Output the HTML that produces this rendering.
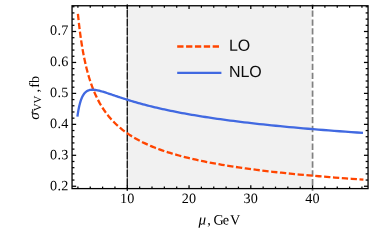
<!DOCTYPE html>
<html><head><meta charset="utf-8"><style>
html,body{margin:0;padding:0;background:#fff;}
svg{display:block;will-change:transform;}
text{font-family:"Liberation Serif",serif;font-size:14.2px;fill:#000;text-rendering:geometricPrecision;}
.tl text{letter-spacing:0.25px;}
.sans{font-family:"Liberation Sans",sans-serif;fill:#0d0d0d;}
</style></head><body>
<svg width="374" height="245" viewBox="0 0 374 245">
<rect width="374" height="245" fill="#fff"/>
<rect x="127.30" y="5.75" width="184.05" height="182.85" fill="#f1f1f1"/>
<line x1="127.30" y1="190.8" x2="127.30" y2="4.5" stroke="#2a2a2a" stroke-width="0.75"/>
<line x1="127.30" y1="190.8" x2="127.30" y2="4.5" stroke="#151515" stroke-width="1.25" stroke-dasharray="7.27 1.6" stroke-dashoffset="3.93"/>
<line x1="312.55" y1="190.8" x2="312.55" y2="4.5" stroke="#808080" stroke-width="1.75" stroke-dasharray="6.3 2.57" stroke-dashoffset="3.45"/>
<path d="M77.92,13.85 L78.17,16.30 L78.42,18.71 L78.67,21.08 L78.93,23.42 L79.20,25.72 L79.47,27.99 L79.75,30.22 L80.03,32.42 L80.32,34.59 L80.61,36.73 L80.91,38.83 L81.22,40.90 L81.53,42.95 L81.85,44.96 L82.18,46.94 L82.51,48.90 L82.85,50.83 L83.19,52.73 L83.55,54.60 L83.91,56.45 L84.27,58.27 L84.65,60.06 L85.03,61.83 L85.42,63.58 L85.82,65.30 L86.23,67.00 L86.64,68.67 L87.06,70.32 L87.50,71.95 L87.94,73.56 L88.39,75.14 L88.84,76.71 L89.31,78.25 L89.79,79.78 L90.28,81.28 L90.77,82.76 L91.28,84.23 L91.80,85.67 L92.33,87.10 L92.87,88.50 L93.42,89.89 L93.98,91.27 L94.55,92.62 L95.13,93.96 L95.73,95.28 L96.34,96.58 L96.96,97.87 L97.59,99.14 L98.24,100.39 L98.90,101.63 L99.57,102.86 L100.26,104.06 L100.96,105.26 L101.67,106.44 L102.40,107.60 L103.15,108.75 L103.91,109.89 L104.68,111.02 L105.47,112.13 L106.28,113.22 L107.10,114.31 L107.94,115.38 L108.80,116.44 L109.67,117.48 L110.57,118.51 L111.48,119.54 L112.41,120.55 L113.35,121.54 L114.32,122.53 L115.31,123.51 L116.31,124.47 L117.34,125.42 L118.39,126.36 L119.46,127.30 L120.55,128.22 L121.67,129.13 L122.80,130.03 L123.96,130.92 L125.15,131.80 L126.35,132.67 L127.59,133.53 L128.84,134.38 L130.13,135.22 L131.43,136.06 L132.77,136.88 L134.13,137.70 L135.52,138.50 L136.94,139.30 L138.39,140.09 L139.87,140.87 L141.38,141.64 L142.91,142.41 L144.48,143.16 L146.08,143.91 L147.72,144.65 L149.39,145.38 L151.09,146.11 L152.82,146.83 L154.59,147.54 L156.40,148.24 L158.25,148.93 L160.13,149.62 L162.05,150.30 L164.01,150.98 L166.01,151.64 L168.05,152.31 L170.13,152.96 L172.25,153.61 L174.42,154.25 L176.63,154.88 L178.89,155.51 L181.19,156.13 L183.54,156.75 L185.93,157.36 L188.38,157.96 L190.88,158.56 L193.42,159.15 L196.02,159.74 L198.67,160.32 L201.38,160.89 L204.14,161.46 L206.95,162.02 L209.83,162.58 L212.76,163.14 L215.75,163.68 L218.81,164.23 L221.92,164.76 L225.10,165.30 L228.35,165.82 L231.65,166.35 L235.03,166.86 L238.48,167.38 L241.99,167.88 L245.58,168.39 L249.24,168.89 L252.98,169.38 L256.79,169.87 L260.68,170.35 L264.65,170.83 L268.70,171.31 L272.83,171.78 L277.04,172.25 L281.35,172.71 L285.74,173.17 L290.22,173.63 L294.79,174.08 L299.45,174.52 L304.21,174.97 L309.06,175.41 L314.02,175.84 L319.07,176.27 L324.23,176.70 L329.49,177.12 L334.86,177.54 L340.34,177.96 L345.93,178.37 L351.64,178.78 L357.46,179.19 L363.40,179.59" fill="none" stroke="#ff4500" stroke-width="2.3" stroke-dasharray="6.3 2.57" stroke-dashoffset="-0.1"/>
<path d="M77.40,116.65 L77.64,114.98 L77.88,113.39 L78.13,111.87 L78.38,110.42 L78.64,109.05 L78.90,107.73 L79.17,106.48 L79.45,105.29 L79.73,104.16 L80.01,103.09 L80.31,102.07 L80.60,101.11 L80.91,100.19 L81.22,99.33 L81.54,98.52 L81.86,97.75 L82.19,97.02 L82.53,96.34 L82.87,95.70 L83.22,95.10 L83.58,94.54 L83.94,94.02 L84.32,93.53 L84.70,93.08 L85.09,92.66 L85.48,92.28 L85.89,91.92 L86.30,91.60 L86.72,91.30 L87.16,91.04 L87.59,90.80 L88.04,90.59 L88.50,90.40 L88.97,90.24 L89.45,90.11 L89.93,89.99 L90.43,89.90 L90.94,89.83 L91.45,89.78 L91.98,89.75 L92.52,89.74 L93.07,89.75 L93.63,89.77 L94.21,89.82 L94.79,89.88 L95.39,89.96 L96.00,90.05 L96.62,90.16 L97.25,90.28 L97.90,90.41 L98.56,90.56 L99.24,90.73 L99.93,90.90 L100.63,91.09 L101.35,91.29 L102.08,91.50 L102.83,91.72 L103.59,91.95 L104.37,92.19 L105.16,92.44 L105.98,92.70 L106.80,92.97 L107.65,93.25 L108.51,93.54 L109.39,93.83 L110.29,94.13 L111.21,94.44 L112.14,94.76 L113.10,95.08 L114.07,95.41 L115.07,95.75 L116.08,96.09 L117.12,96.44 L118.18,96.79 L119.26,97.15 L120.36,97.51 L121.49,97.88 L122.63,98.26 L123.81,98.63 L125.00,99.02 L126.22,99.40 L127.47,99.79 L128.74,100.19 L130.04,100.58 L131.36,100.98 L132.72,101.39 L134.10,101.79 L135.50,102.20 L136.94,102.62 L138.41,103.03 L139.91,103.45 L141.44,103.87 L143.00,104.29 L144.59,104.71 L146.21,105.14 L147.87,105.57 L149.57,106.00 L151.29,106.43 L153.06,106.86 L154.86,107.29 L156.69,107.73 L158.57,108.17 L160.48,108.60 L162.44,109.04 L164.43,109.48 L166.46,109.92 L168.54,110.36 L170.66,110.80 L172.82,111.24 L175.03,111.69 L177.29,112.13 L179.59,112.57 L181.93,113.02 L184.33,113.46 L186.78,113.90 L189.27,114.35 L191.82,114.79 L194.42,115.24 L197.07,115.68 L199.78,116.12 L202.55,116.57 L205.37,117.01 L208.25,117.45 L211.19,117.89 L214.19,118.34 L217.25,118.78 L220.38,119.22 L223.57,119.66 L226.82,120.10 L230.15,120.54 L233.54,120.98 L237.00,121.42 L240.53,121.85 L244.14,122.29 L247.82,122.73 L251.57,123.16 L255.41,123.60 L259.32,124.03 L263.32,124.46 L267.39,124.89 L271.55,125.32 L275.80,125.75 L280.13,126.18 L284.56,126.61 L289.07,127.04 L293.68,127.46 L298.38,127.89 L303.18,128.31 L308.08,128.73 L313.08,129.15 L318.19,129.57 L323.40,129.99 L328.71,130.41 L334.14,130.83 L339.68,131.24 L345.33,131.65 L351.10,132.07 L356.99,132.48 L363.00,132.89" fill="none" stroke="#4169e1" stroke-width="2.3" stroke-linejoin="round"/>
<g stroke="#000" stroke-width="1.25"><line x1="77.90" y1="188.60" x2="77.90" y2="186.60"/><line x1="77.90" y1="5.75" x2="77.90" y2="7.75"/><line x1="90.25" y1="188.60" x2="90.25" y2="186.60"/><line x1="90.25" y1="5.75" x2="90.25" y2="7.75"/><line x1="102.60" y1="188.60" x2="102.60" y2="186.60"/><line x1="102.60" y1="5.75" x2="102.60" y2="7.75"/><line x1="114.95" y1="188.60" x2="114.95" y2="186.60"/><line x1="114.95" y1="5.75" x2="114.95" y2="7.75"/><line x1="127.30" y1="188.60" x2="127.30" y2="185.30"/><line x1="127.30" y1="5.75" x2="127.30" y2="9.05"/><line x1="139.65" y1="188.60" x2="139.65" y2="186.60"/><line x1="139.65" y1="5.75" x2="139.65" y2="7.75"/><line x1="152.00" y1="188.60" x2="152.00" y2="186.60"/><line x1="152.00" y1="5.75" x2="152.00" y2="7.75"/><line x1="164.35" y1="188.60" x2="164.35" y2="186.60"/><line x1="164.35" y1="5.75" x2="164.35" y2="7.75"/><line x1="176.70" y1="188.60" x2="176.70" y2="186.60"/><line x1="176.70" y1="5.75" x2="176.70" y2="7.75"/><line x1="189.05" y1="188.60" x2="189.05" y2="185.30"/><line x1="189.05" y1="5.75" x2="189.05" y2="9.05"/><line x1="201.40" y1="188.60" x2="201.40" y2="186.60"/><line x1="201.40" y1="5.75" x2="201.40" y2="7.75"/><line x1="213.75" y1="188.60" x2="213.75" y2="186.60"/><line x1="213.75" y1="5.75" x2="213.75" y2="7.75"/><line x1="226.10" y1="188.60" x2="226.10" y2="186.60"/><line x1="226.10" y1="5.75" x2="226.10" y2="7.75"/><line x1="238.45" y1="188.60" x2="238.45" y2="186.60"/><line x1="238.45" y1="5.75" x2="238.45" y2="7.75"/><line x1="250.80" y1="188.60" x2="250.80" y2="185.30"/><line x1="250.80" y1="5.75" x2="250.80" y2="9.05"/><line x1="263.15" y1="188.60" x2="263.15" y2="186.60"/><line x1="263.15" y1="5.75" x2="263.15" y2="7.75"/><line x1="275.50" y1="188.60" x2="275.50" y2="186.60"/><line x1="275.50" y1="5.75" x2="275.50" y2="7.75"/><line x1="287.85" y1="188.60" x2="287.85" y2="186.60"/><line x1="287.85" y1="5.75" x2="287.85" y2="7.75"/><line x1="300.20" y1="188.60" x2="300.20" y2="186.60"/><line x1="300.20" y1="5.75" x2="300.20" y2="7.75"/><line x1="312.55" y1="188.60" x2="312.55" y2="185.30"/><line x1="312.55" y1="5.75" x2="312.55" y2="9.05"/><line x1="324.90" y1="188.60" x2="324.90" y2="186.60"/><line x1="324.90" y1="5.75" x2="324.90" y2="7.75"/><line x1="337.25" y1="188.60" x2="337.25" y2="186.60"/><line x1="337.25" y1="5.75" x2="337.25" y2="7.75"/><line x1="349.60" y1="188.60" x2="349.60" y2="186.60"/><line x1="349.60" y1="5.75" x2="349.60" y2="7.75"/><line x1="361.95" y1="188.60" x2="361.95" y2="186.60"/><line x1="361.95" y1="5.75" x2="361.95" y2="7.75"/><line x1="72.05" y1="186.25" x2="76.15" y2="186.25"/><line x1="368.05" y1="186.25" x2="363.95" y2="186.25"/><line x1="72.05" y1="180.06" x2="74.45" y2="180.06"/><line x1="368.05" y1="180.06" x2="365.65" y2="180.06"/><line x1="72.05" y1="173.87" x2="74.45" y2="173.87"/><line x1="368.05" y1="173.87" x2="365.65" y2="173.87"/><line x1="72.05" y1="167.68" x2="74.45" y2="167.68"/><line x1="368.05" y1="167.68" x2="365.65" y2="167.68"/><line x1="72.05" y1="161.49" x2="74.45" y2="161.49"/><line x1="368.05" y1="161.49" x2="365.65" y2="161.49"/><line x1="72.05" y1="155.30" x2="76.15" y2="155.30"/><line x1="368.05" y1="155.30" x2="363.95" y2="155.30"/><line x1="72.05" y1="149.11" x2="74.45" y2="149.11"/><line x1="368.05" y1="149.11" x2="365.65" y2="149.11"/><line x1="72.05" y1="142.92" x2="74.45" y2="142.92"/><line x1="368.05" y1="142.92" x2="365.65" y2="142.92"/><line x1="72.05" y1="136.73" x2="74.45" y2="136.73"/><line x1="368.05" y1="136.73" x2="365.65" y2="136.73"/><line x1="72.05" y1="130.54" x2="74.45" y2="130.54"/><line x1="368.05" y1="130.54" x2="365.65" y2="130.54"/><line x1="72.05" y1="124.35" x2="76.15" y2="124.35"/><line x1="368.05" y1="124.35" x2="363.95" y2="124.35"/><line x1="72.05" y1="118.16" x2="74.45" y2="118.16"/><line x1="368.05" y1="118.16" x2="365.65" y2="118.16"/><line x1="72.05" y1="111.97" x2="74.45" y2="111.97"/><line x1="368.05" y1="111.97" x2="365.65" y2="111.97"/><line x1="72.05" y1="105.78" x2="74.45" y2="105.78"/><line x1="368.05" y1="105.78" x2="365.65" y2="105.78"/><line x1="72.05" y1="99.59" x2="74.45" y2="99.59"/><line x1="368.05" y1="99.59" x2="365.65" y2="99.59"/><line x1="72.05" y1="93.40" x2="76.15" y2="93.40"/><line x1="368.05" y1="93.40" x2="363.95" y2="93.40"/><line x1="72.05" y1="87.21" x2="74.45" y2="87.21"/><line x1="368.05" y1="87.21" x2="365.65" y2="87.21"/><line x1="72.05" y1="81.02" x2="74.45" y2="81.02"/><line x1="368.05" y1="81.02" x2="365.65" y2="81.02"/><line x1="72.05" y1="74.83" x2="74.45" y2="74.83"/><line x1="368.05" y1="74.83" x2="365.65" y2="74.83"/><line x1="72.05" y1="68.64" x2="74.45" y2="68.64"/><line x1="368.05" y1="68.64" x2="365.65" y2="68.64"/><line x1="72.05" y1="62.45" x2="76.15" y2="62.45"/><line x1="368.05" y1="62.45" x2="363.95" y2="62.45"/><line x1="72.05" y1="56.26" x2="74.45" y2="56.26"/><line x1="368.05" y1="56.26" x2="365.65" y2="56.26"/><line x1="72.05" y1="50.07" x2="74.45" y2="50.07"/><line x1="368.05" y1="50.07" x2="365.65" y2="50.07"/><line x1="72.05" y1="43.88" x2="74.45" y2="43.88"/><line x1="368.05" y1="43.88" x2="365.65" y2="43.88"/><line x1="72.05" y1="37.69" x2="74.45" y2="37.69"/><line x1="368.05" y1="37.69" x2="365.65" y2="37.69"/><line x1="72.05" y1="31.50" x2="76.15" y2="31.50"/><line x1="368.05" y1="31.50" x2="363.95" y2="31.50"/><line x1="72.05" y1="25.31" x2="74.45" y2="25.31"/><line x1="368.05" y1="25.31" x2="365.65" y2="25.31"/><line x1="72.05" y1="19.12" x2="74.45" y2="19.12"/><line x1="368.05" y1="19.12" x2="365.65" y2="19.12"/><line x1="72.05" y1="12.93" x2="74.45" y2="12.93"/><line x1="368.05" y1="12.93" x2="365.65" y2="12.93"/><line x1="72.05" y1="6.74" x2="74.45" y2="6.74"/><line x1="368.05" y1="6.74" x2="365.65" y2="6.74"/></g>
<rect x="72.05" y="5.75" width="296.00" height="182.85" fill="none" stroke="#000" stroke-width="1.3"/>
<line x1="177.2" y1="46.5" x2="219.2" y2="46.5" stroke="#ff4500" stroke-width="2.3" stroke-dasharray="6.3 2.57"/>
<line x1="177.2" y1="72.8" x2="221.4" y2="72.8" stroke="#4169e1" stroke-width="2.3"/>
<g transform="matrix(1,0.001,0,1,0,0)"><g class="tl"><text x="127.20" y="202.82" text-anchor="middle" style="letter-spacing:0">10</text><text x="188.95" y="202.76" text-anchor="middle" style="letter-spacing:0">20</text><text x="250.70" y="202.70" text-anchor="middle" style="letter-spacing:0">30</text><text x="312.45" y="202.64" text-anchor="middle" style="letter-spacing:0">40</text><text x="68.55" y="190.19" text-anchor="end">0.2</text><text x="68.55" y="159.11" text-anchor="end">0.3</text><text x="68.55" y="128.03" text-anchor="end">0.4</text><text x="68.55" y="96.95" text-anchor="end">0.5</text><text x="68.55" y="65.87" text-anchor="end">0.6</text><text x="68.55" y="34.79" text-anchor="end">0.7</text></g>
<text class="sans" x="228.9" y="50.56" style="font-size:16px">LO</text>
<text class="sans" x="228.9" y="76.75" style="font-size:16px">NLO</text>
<g style="font-size:14.4px"><text x="198.5" y="224.28" font-style="italic" style="font-size:15.2px">μ</text><text x="207.3" y="224.28">,</text><text x="213.5" y="224.28">G</text><text x="222.8" y="224.28">e</text><text x="230.1" y="224.28">V</text></g>
<g transform="translate(39.3,119.65) rotate(-90)" style="font-size:13.6px"><text x="0" y="0" font-style="italic" style="font-size:15.4px">σ</text><path d="M6.2,-6.45 L10.1,-6.6" stroke="#000" stroke-width="1" fill="none" stroke-linecap="round"/><text x="8.33" y="1.4" style="font-size:10.75px">VV</text><text x="27.1" y="0">,</text><text x="32" y="0">fb</text></g></g>
</svg></body></html>
